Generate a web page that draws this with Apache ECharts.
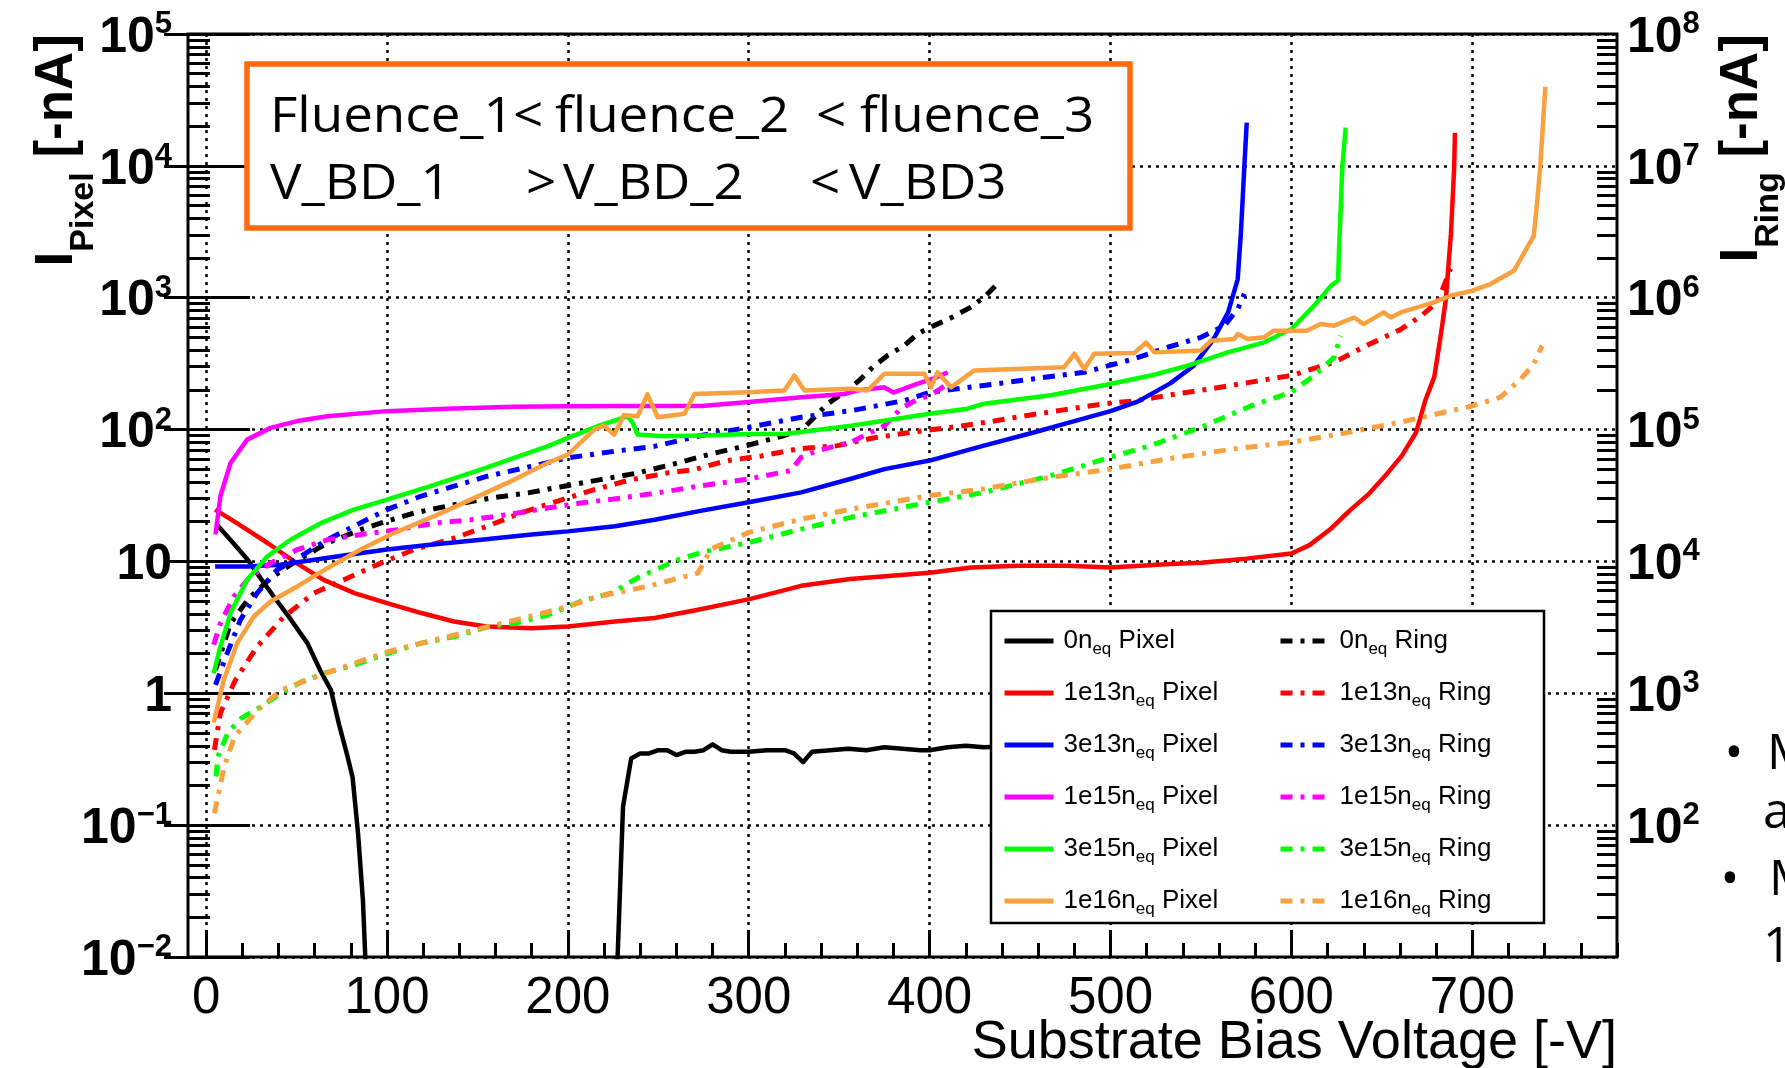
<!DOCTYPE html>
<html>
<head>
<meta charset="utf-8">
<title>Pixel and ring current vs substrate bias</title>
<script src="https://cdn.jsdelivr.net/npm/echarts@6/dist/echarts.min.js"></script>
<style>
html,body{margin:0;padding:0;background:#ffffff;}
#chart{width:1785px;height:1068px;}
</style>
</head>
<body>
<div id="chart"></div>
<script>
// ---------------- tick values / labels ----------------
const voltTicks = [0, 100, 200, 300, 400, 500, 600, 700];
const voltTickLabels = ['0', '100', '200', '300', '400', '500', '600', '700'];
const pixelTicks = [0.01, 0.1, 1, 10, 100, 1000, 10000, 100000];
const pixelTickLabels = ['10^-2', '10^-1', '1', '10', '10^2', '10^3', '10^4', '10^5'];
const ringTicks = [10, 100, 1000, 10000, 100000, 1000000, 10000000, 100000000];
const ringTickLabels = ['', '10^2', '10^3', '10^4', '10^5', '10^6', '10^7', '10^8'];

// ---------------- series (V [-V], I [-nA]) ----------------
const fluences = ['0', '1e13', '3e13', '1e15', '3e15', '1e16'];
const colors = ['#000000', '#ff0000', '#0000ff', '#ff00ff', '#00ff00', '#f9a03f'];

const pixel_0 = [[6,19],[15,13.8],[23,10.3],[30,7.5],[37.5,5.4],[47,3.6],[56,2.4],[63,1.5],[69,1.06],[73.5,0.58],[78,0.34],[81,0.23],[84,0.087],[86.7,0.027],[88,0.01],[89,0.005],[150,null],[226,0.005],[227.5,0.01],[230.5,0.138],[235,0.32],[240,0.35],[245,0.35],[250,0.37],[255,0.37],[260,0.34],[265,0.36],[270,0.36],[275,0.37],[280,0.41],[285,0.37],[290,0.36],[300,0.36],[310,0.37],[320,0.37],[325,0.35],[330,0.30],[335,0.36],[345,0.37],[355,0.38],[365,0.37],[375,0.39],[385,0.38],[395,0.37],[400,0.37],[410,0.39],[420,0.40],[430,0.39],[450,0.40],[480,0.41]];
const ring_0 = [[5.2,1500],[13.5,3390],[23.6,5250],[35.6,7460],[50.4,10200],[67,13800],[85.4,17400],[96.5,19500],[115,23300],[137,26900],[157,30200],[178,33100],[198,37200],[218,41700],[238.5,46800],[259,55000],[279,65300],[299.4,75900],[319.7,90200],[329.8,101000],[336.3,124000],[343.6,157000],[352.9,192000],[361.1,236000],[368.5,297000],[376.8,365000],[386,434000],[393.4,533000],[402.6,617000],[412.7,713000],[422.8,849000],[430.2,1010000],[437.6,1280000]];

const pixel_1e13 = [[5,24.7],[17,19.5],[34,13.8],[50,9.7],[65,7.24],[82,5.75],[100,4.83],[119,4.06],[137,3.5],[155,3.21],[180,3.12],[200,3.21],[226,3.5],[248,3.72],[272,4.3],[301,5.2],[329,6.53],[356,7.35],[400,8.2],[423,9.0],[449,9.27],[476,9.27],[500,9.0],[533,9.55],[550,9.77],[575,10.5],[600,11.5],[610,13.3],[622,17.8],[632.5,24.5],[643,32.7],[653,46.5],[661,63.1],[669,95.5],[674,166],[679,251],[682.7,533],[685.4,977],[688.2,3060],[690,9770],[690.4,17800]];
const ring_1e13 = [[4.6,372],[7.9,708],[16.2,1260],[28.2,2260],[43,3800],[59.6,5750],[78,7460],[96.5,9700],[115,12300],[137,15000],[155.5,18500],[174,23300],[194,28600],[214.6,35000],[234.9,41700],[255,46800],[270,49700],[288,58200],[307,63100],[327,71300],[349,75500],[368,85900],[390,95500],[412,104000],[432,114000],[454,128000],[474,141000],[496.5,157000],[515,166000],[531.6,182000],[555.6,204000],[577.6,229000],[600,257000],[623.6,324000],[642,437000],[660.4,575000],[671.5,724000],[680.7,923000],[688,1660000]];

const pixel_3e13 = [[5,9.16],[23,9.16],[41,9.44],[60,10.3],[78,11.2],[100,12.3],[124,13.4],[152,14.6],[180,16.0],[200,16.9],[226,18.5],[248,20.7],[274,24.3],[300,28.1],[329,33.4],[356,42.2],[375,50.1],[400,58.2],[430,75.5],[458,95.5],[478,114],[500,138],[515,163],[533,224],[546,305],[557,486],[565,774],[570.3,1380],[572.1,3130],[574,10000],[575.3,21300]];
const ring_3e13 = [[5.2,1160],[11.6,2000],[19,3610],[28.2,5750],[39.3,8650],[52.2,10900],[67,14600],[81.7,18500],[100,24700],[118.6,31200],[137,37200],[155.5,44300],[179.5,52500],[200,61000],[225.6,68400],[247.8,74600],[273.7,90200],[300,104000],[329,124000],[356.5,139000],[386,166000],[400,192000],[430,216000],[457.8,243000],[485.5,272000],[513,344000],[531.6,421000],[550,501000],[563,614000],[570.3,820000],[574,1070000]];

const pixel_1e15 = [[5.2,16],[7.9,31.2],[13.5,55.8],[22.7,83.9],[35.6,103],[50.4,116],[67,126],[100,138],[133,144],[170,149],[200,150],[244,151],[274,151],[300,162],[329,176],[353,186],[360,198],[375,209],[380,191],[393,222],[404,249],[410,272]];
const ring_1e15 = [[4.2,2330],[7.9,3390],[15.3,5420],[24.5,7690],[35.6,9700],[50.4,12300],[67,14600],[85.4,16000],[105.7,17400],[126,19500],[146.3,20700],[166.6,22600],[188.7,25400],[207,27700],[229,30200],[249.6,33100],[272,37200],[300,42200],[323.4,48900],[329,61700],[338,69200],[356.5,80200],[367.6,95500],[375,107000],[384,144000],[393.4,170000],[400,181000],[406,204000],[408,214000]];

const pixel_3e15 = [[4.2,1.42],[7.9,2.26],[13.5,4.06],[22.7,7.26],[33.8,10.9],[46.7,14.6],[63.3,19.5],[81.7,24.7],[100,29.4],[124,37.2],[151.8,49.7],[170.3,61],[188.7,74.6],[200,86.5],[216.4,106],[233,126],[236,112],[238.5,91.6],[253,89.1],[274,90.2],[300,92.7],[320,92.7],[356.5,107],[400,132],[421,144],[430,157],[467,182],[497,218],[522.4,257],[533,281],[542.7,305],[564.8,385],[585,459],[600,579],[612.6,871],[621.8,1230],[625.8,1350],[626.4,2480],[628.2,10000],[630,19500]];
const ring_3e15 = [[5.5,234],[6.5,331],[12,501],[19.4,646],[30.4,794],[41.5,1000],[52.6,1220],[65.5,1420],[82,1640],[100.6,2010],[119,2400],[137.5,2690],[156,3200],[170.7,3390],[189,3920],[207,4970],[224,5750],[240,7690],[261,10300],[273.7,11700],[300,13900],[329,17600],[356.5,21600],[400,28100],[430,33400],[467,44700],[500,61700],[522.4,75700],[550,104000],[577.6,151000],[600,192000],[612.6,257000],[623.6,353000],[627.3,515000]];

const pixel_1e16 = [[4.2,0.6],[9.8,1.26],[17.2,2.4],[26.4,3.82],[35.6,4.97],[50.4,6.46],[67,8.89],[85.4,12.3],[103.8,16.4],[126,22],[146.3,29.4],[166.6,39.4],[188.7,55.8],[200,64.6],[214.6,100],[220,107],[225.6,91.2],[231,129],[238.5,126],[244,185],[249.7,124],[264.5,132],[270,186],[299.4,192],[319.7,198],[325.2,257],[330.8,198],[356.5,204],[365.7,198],[375,265],[397,265],[400.7,209],[404.4,272],[411.8,209],[424.7,281],[474.4,297],[480,376],[485.5,288],[491,376],[513,380],[519.7,457],[524.3,385],[550,398],[555.6,472],[568.4,486],[570.3,531],[575.8,486],[585,501],[590.3,562],[608.5,562],[616,631],[623.6,614],[634.7,708],[640,631],[651,774],[655,708],[660.4,774],[669.6,845],[678.8,923],[688,1035],[700,1130],[710,1270],[723,1600],[734,2950],[736,5590],[737.6,10000],[740.4,39800]];
const ring_1e16 = [[4.6,123],[7.4,186],[10,278],[15.7,468],[28.6,748],[41.5,1060],[63.7,1380],[82,1690],[100.6,2070],[126.4,2540],[156,3200],[182,3920],[200,4540],[216.4,5420],[244,6460],[271.8,8150],[275,9660],[279,12400],[300,16600],[329,20900],[356.5,24900],[400,31600],[430,35500],[467,43500],[500,50100],[531.6,60000],[568.4,71400],[600,80200],[627.3,92700],[660.4,114000],[700,151000],[715.6,176000],[726.6,240000],[734,314000],[738.6,433000]];

const pixelData = [pixel_0, pixel_1e13, pixel_3e13, pixel_1e15, pixel_3e15, pixel_1e16];
const ringData = [ring_0, ring_1e13, ring_3e13, ring_1e15, ring_3e15, ring_1e16];

// ---------------- helpers ----------------
const FONT = "'Liberation Sans', Arial, Helvetica, sans-serif";
const SLIDE_FONT = "'Open Sans', 'Liberation Sans', sans-serif";

const minorVolt = [];
for (let v = 20; v <= 780; v += 20) if (v % 100 !== 0) minorVolt.push(v);
function logMinors(eFrom, eTo) {
  const out = [];
  for (let e = eFrom; e < eTo; e++) for (let k = 2; k <= 9; k++) out.push(Number((k * Math.pow(10, e)).toPrecision(6)));
  return out;
}
const pixelMinor = logMinors(-2, 5);
const ringMinor = logMinors(1, 8);

function powLabel(lbl) {
  if (!lbl) return '';
  const p = lbl.split('^');
  if (p.length === 1) return '{b|' + p[0] + '}';
  return '{b|' + p[0] + '}{s|' + p[1].replace('-', '\u2212') + '}';
}
function lookup(vals, labels, v) {
  for (let i = 0; i < vals.length; i++) {
    if (Math.abs(Math.log10(vals[i]) - Math.log10(v)) < 1e-6) return labels[i];
  }
  return '';
}
const powRich = {
  b: { fontSize: 50, fontWeight: 'bold', fontFamily: FONT, color: '#000', lineHeight: 58, verticalAlign: 'middle' },
  s: { fontSize: 31, fontWeight: 'bold', fontFamily: FONT, color: '#000', lineHeight: 31, verticalAlign: 'top' }
};
const titleRich = {
  m: { fontSize: 53, fontWeight: 'bold', fontFamily: FONT, color: '#000', fill: '#000', lineHeight: 60, verticalAlign: 'middle' },
  s: { fontSize: 34, fontWeight: 'bold', fontFamily: FONT, color: '#000', fill: '#000', lineHeight: 1, verticalAlign: 'top', padding: [40, 0, 0, 0] }
};
const tickStyle = { color: '#000', width: 3 };
const gridLine = { color: '#000', width: 2.5, type: [3, 5] };

// ---------------- series ----------------
const series = [];
fluences.forEach(function (f, i) {
  series.push({
    name: f + 'neq Pixel', type: 'line', xAxisIndex: 0, yAxisIndex: 0,
    data: pixelData[i], symbol: 'none', showSymbol: false, connectNulls: false,
    z: 2, silent: true, emphasis: { disabled: true },
    itemStyle: { color: colors[i] },
    lineStyle: { color: colors[i], width: 4.5, type: 'solid', cap: 'butt', join: 'round' }
  });
  series.push({
    name: f + 'neq Ring', type: 'line', xAxisIndex: 0, yAxisIndex: 1,
    data: ringData[i], symbol: 'none', showSymbol: false, connectNulls: false,
    z: 2, silent: true, emphasis: { disabled: true },
    itemStyle: { color: colors[i] },
    lineStyle: { color: colors[i], width: 5, type: [12, 8, 4, 8], cap: 'butt', join: 'round' }
  });
});

const legendRich = {
  g: { width: 5 },
  m: { fontSize: 26, fontFamily: FONT, color: '#000', lineHeight: 34, verticalAlign: 'middle' },
  s: { fontSize: 17, fontFamily: FONT, color: '#000', lineHeight: 17, verticalAlign: 'bottom' }
};
function legendFmt(name) {
  const m = name.match(/^(\S+)neq (\S+)$/);
  return '{g| }{m|' + m[1] + 'n}{s|eq}{m| ' + m[2] + '}';
}
function legendCfg(kind, left) {
  return {
    data: fluences.map(function (f) { return f + 'neq ' + kind; }),
    orient: 'vertical', left: left, top: 628, padding: 0,
    itemWidth: 49, itemHeight: 14, itemGap: 22, selectedMode: false,
    itemStyle: { opacity: 0, borderWidth: 0 },
    lineStyle: { width: 5 },
    formatter: legendFmt, textStyle: { fontSize: 26, fontFamily: FONT, color: '#000', rich: legendRich },
    z: 5
  };
}

// ---------------- annotation text pieces ----------------
const boxLine1 = [['Fluence_1', 270], ['<', 513], ['fluence_2', 555], ['<', 816], ['fluence_3', 860]];
const boxLine2 = [['V_BD_1', 270], ['>', 526], ['V_BD_2', 563], ['<', 810], ['V_BD3', 849]];
function boxText(piece, y) {
  return {
    type: 'text', x: piece[1], y: y, z: 6, scaleX: 1.08, scaleY: 1,
    style: { text: piece[0], fontSize: 49, fontFamily: SLIDE_FONT, fill: '#000', align: 'left', verticalAlign: 'middle', textAlign: 'left', textVerticalAlign: 'middle' }
  };
}
function slideText(text, x, y, align) {
  return {
    type: 'text', x: x, y: y, z: 6,
    style: { text: text, fontSize: 50, fontFamily: SLIDE_FONT, fill: '#000', align: align, verticalAlign: 'middle', textAlign: align, textVerticalAlign: 'middle' }
  };
}
const graphics = [
  { type: 'rect', z: 3, shape: { x: 247, y: 64, width: 883, height: 164 }, style: { fill: '#ffffff', stroke: '#ff6a0d', lineWidth: 5.5 } },
  { type: 'rect', z: 3, shape: { x: 991, y: 611, width: 553, height: 312 }, style: { fill: '#ffffff', stroke: '#000000', lineWidth: 2.5 } },
  {
    type: 'text', x: 1712, y: 34, rotation: Math.PI / 2, z: 6,
    style: { text: '{m|I}{s|Ring}{m| [-nA]}', align: 'right', verticalAlign: 'top', textAlign: 'right', textVerticalAlign: 'top', fontSize: 53, fontWeight: 'bold', fontFamily: FONT, fill: '#000', rich: titleRich }
  }
];
boxLine1.forEach(function (p) { graphics.push(boxText(p, 118)); });
boxLine2.forEach(function (p) { graphics.push(boxText(p, 185)); });
graphics.push(slideText('\u2022', 1734, 755, 'center'));
graphics.push(slideText('M', 1767, 755, 'left'));
graphics.push(slideText('a', 1763, 814, 'left'));
graphics.push(slideText('\u2022', 1730, 881, 'center'));
graphics.push(slideText('M', 1769, 881, 'left'));
graphics.push(slideText('1', 1763, 948, 'left'));

// ---------------- chart ----------------
const chart = echarts.init(document.getElementById('chart'), null, { renderer: 'canvas' });
chart.setOption({
  animation: false,
  backgroundColor: '#ffffff',
  grid: { left: 188, right: 168, top: 34, bottom: 111, show: true, borderColor: '#000', borderWidth: 3, backgroundColor: 'rgba(0,0,0,0)', containLabel: false, outerBoundsMode: 'none' },
  legend: [legendCfg('Pixel', 1002), legendCfg('Ring', 1278)],
  xAxis: [
    {
      type: 'value', min: -10, max: 780, position: 'bottom',
      name: 'Substrate Bias Voltage [-V]', nameLocation: 'end', nameGap: 0, nameMoveOverlap: false,
      nameTextStyle: { fontSize: 54, fontFamily: FONT, color: '#000', align: 'right', verticalAlign: 'top', padding: [59, 0, 0, 0] },
      axisLine: { show: false },
      axisTick: { show: true, inside: true, length: 27, lineStyle: tickStyle, customValues: voltTicks },
      axisLabel: { customValues: voltTicks, formatter: function (v) { return voltTickLabels[voltTicks.indexOf(v)]; }, fontSize: 51, fontFamily: FONT, color: '#000', margin: 16, hideOverlap: false },
      splitLine: { show: true, lineStyle: gridLine }
    },
    {
      type: 'value', min: -10, max: 780, position: 'bottom',
      axisLine: { show: false },
      axisTick: { show: true, inside: true, length: 14, lineStyle: tickStyle, customValues: minorVolt },
      axisLabel: { show: false }, splitLine: { show: false }
    }
  ],
  yAxis: [
    {
      type: 'log', logBase: 10, min: 0.01, max: 100000, position: 'left',
      name: '{m|I}{s|Pixel}{m| [-nA]}', nameLocation: 'end', nameGap: 0, nameRotate: 90, nameMoveOverlap: false,
      nameTextStyle: {
        align: 'right', verticalAlign: 'bottom', padding: [0, 0, 119, 0], fontSize: 53, fontWeight: 'bold', fontFamily: FONT, color: '#000',
        rich: titleRich
      },
      axisLine: { show: false },
      axisTick: { show: true, inside: true, length: 44, lineStyle: tickStyle, customValues: pixelTicks },
      axisLabel: { customValues: pixelTicks, formatter: function (v) { return powLabel(lookup(pixelTicks, pixelTickLabels, v)); }, margin: 16, padding: [8, 0, 0, 0], rich: powRich, hideOverlap: false },
      splitLine: { show: true, lineStyle: gridLine }
    },
    {
      type: 'log', logBase: 10, min: 10, max: 100000000, position: 'right',
      axisLine: { show: false },
      axisTick: { show: true, inside: true, length: 42, lineStyle: tickStyle, customValues: ringTicks },
      axisLabel: { customValues: ringTicks, formatter: function (v) { return powLabel(lookup(ringTicks, ringTickLabels, v)); }, margin: 10, padding: [8, 0, 0, 0], rich: powRich, hideOverlap: false },
      splitLine: { show: false }
    },
    {
      type: 'log', logBase: 10, min: 0.01, max: 100000, position: 'left',
      axisLine: { show: false },
      axisTick: { show: true, inside: true, length: 22, lineStyle: tickStyle, customValues: pixelMinor },
      axisLabel: { show: false }, splitLine: { show: false }
    },
    {
      type: 'log', logBase: 10, min: 10, max: 100000000, position: 'right',
      axisLine: { show: false },
      axisTick: { show: true, inside: true, length: 20, lineStyle: tickStyle, customValues: ringMinor },
      axisLabel: { show: false }, splitLine: { show: false }
    }
  ],
  graphic: { elements: graphics },
  series: series
});
</script>
</body>
</html>
